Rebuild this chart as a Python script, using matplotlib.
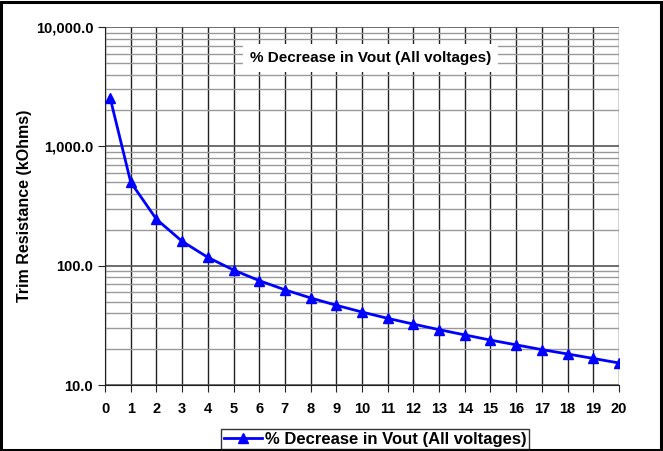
import matplotlib.pyplot as plt
from matplotlib.ticker import FixedLocator, LogLocator, NullFormatter, FuncFormatter
from matplotlib.patches import Rectangle

plt.rcParams['font.family'] = ['Liberation Sans', 'DejaVu Sans']
plt.rcParams['font.weight'] = 'bold'

# trim resistance vs. percentage decrease of output voltage
pct_decrease = [0.2, 1, 2, 3, 4, 5, 6, 7, 8, 9, 10, 11, 12, 13, 14, 15, 16, 17, 18, 19, 20]
trim_kohm = [2545.0, 500.8, 245.3, 160.1, 117.5, 92.0, 75.0, 62.8, 53.7, 46.6,
             40.9, 36.2, 32.4, 29.1, 26.3, 23.8, 21.7, 19.8, 18.2, 16.7, 15.3]
series_name = '% Decrease in Vout (All voltages)'
x_ticks = list(range(0, 21))
y_ticks = [10, 100, 1000, 10000]

fig = plt.figure(figsize=(6.63, 4.51), dpi=100)
fig.patches.append(Rectangle((0.002, 0.003), 0.995, 0.993, transform=fig.transFigure,
                             fill=False, edgecolor='black', linewidth=2.2))
ax = fig.add_axes([0.1584, 0.1463, 0.7752, 0.7937])

ax.plot(pct_decrease, trim_kohm, color='#0000ff', linewidth=2, marker='^',
        markersize=7, label=series_name, zorder=3)

ax.set_yscale('log')
ax.set_xlim(0, 20)
ax.set_ylim(10, 10000)
ax.xaxis.set_major_locator(FixedLocator(x_ticks))
ax.yaxis.set_major_locator(FixedLocator(y_ticks))
ax.yaxis.set_minor_locator(LogLocator(base=10, subs=range(2, 10)))
ax.yaxis.set_minor_formatter(NullFormatter())
ax.yaxis.set_major_formatter(FuncFormatter(lambda v, p: f'{v:,.1f}'))

ax.grid(True, which='major', axis='x', color='#222222', linewidth=1)
ax.grid(True, which='major', axis='y', color='#555555', linewidth=1.2)
ax.grid(True, which='minor', axis='y', color='#999999', linewidth=1)
ax.set_axisbelow(True)

for side in ['top', 'right']:
    ax.spines[side].set_visible(False)
ax.spines['left'].set_color('#222222')
ax.spines['bottom'].set_color('#222222')
ax.tick_params(axis='both', which='major', direction='out', length=5,
               labelsize=10.5, color='#222222')
ax.tick_params(axis='y', which='minor', length=0)
ax.tick_params(axis='x', pad=7)
for lab in ax.get_xticklabels() + ax.get_yticklabels():
    lab.set_fontweight('bold')

ax.set_ylabel('Trim Resistance (kOhms)', fontsize=11.5, fontweight='bold')
ax.yaxis.set_label_coords(-0.142, 0.5)

ax.text(0.516, 0.914, series_name, transform=ax.transAxes, ha='center', va='center',
        fontsize=11, fontweight='bold',
        bbox=dict(facecolor='white', edgecolor='none', pad=5))

leg = fig.legend(loc='center', bbox_to_anchor=(0.566, 0.026),
                 frameon=True, fancybox=False, edgecolor='black',
                 handlelength=2.3, borderpad=0.15, handletextpad=0.2,
                 prop={'weight': 'bold', 'size': 12})
leg.get_frame().set_linewidth(1)

fig.savefig('out.png', dpi=100)
